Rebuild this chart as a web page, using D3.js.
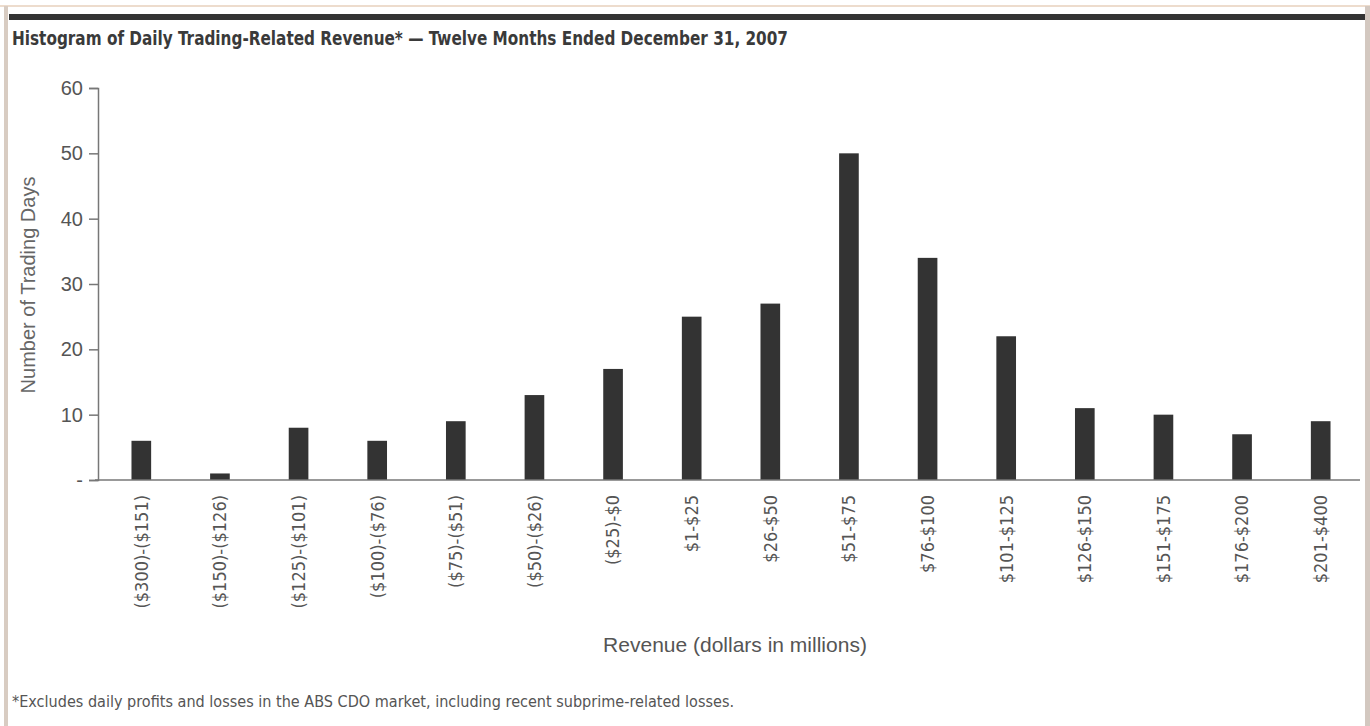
<!DOCTYPE html>
<html>
<head>
<meta charset="utf-8">
<script src="https://cdn.jsdelivr.net/npm/d3@7"></script>
<style>
  body { margin: 0; background: #fff; }
  svg { display: block; }
</style>
</head>
<body>
<svg id="chart" width="1370" height="726"></svg>
<script>
// revenue buckets (dollars in millions)
const categories = ["($300)-($151)", "($150)-($126)", "($125)-($101)", "($100)-($76)",
  "($75)-($51)", "($50)-($26)", "($25)-$0", "$1-$25", "$26-$50", "$51-$75",
  "$76-$100", "$101-$125", "$126-$150", "$151-$175", "$176-$200", "$201-$400"];
// number of trading days in each bucket
const tradingDays = [6, 1, 8, 6, 9, 13, 17, 25, 27, 50, 34, 22, 11, 10, 7, 9];
const yTicks = [0, 10, 20, 30, 40, 50, 60];

const titleText = "Histogram of Daily Trading-Related Revenue*  \u2014  Twelve Months Ended December 31, 2007";
const footText = "*Excludes daily profits and losses in the ABS CDO market, including recent subprime-related losses.";

const svg = d3.select("#chart");
const narrow = "'Liberation Sans Narrow', 'DejaVu Sans Condensed', 'Roboto Condensed', sans-serif";

// frame
svg.append("line").attr("x1", 0).attr("x2", 1370).attr("y1", 6).attr("y2", 6)
  .attr("stroke", "#eddccd").attr("stroke-width", 2);
svg.append("rect").attr("x", 4).attr("y", 6).attr("width", 4).attr("height", 720).attr("fill", "#d8ccc2");
svg.append("rect").attr("x", 1365).attr("y", 6).attr("width", 5).attr("height", 720).attr("fill", "#d3c8c0");
svg.append("rect").attr("x", 9).attr("y", 14).attr("width", 1356).attr("height", 6).attr("fill", "#333");

// title, squeezed to the condensed width of the original
svg.append("text")
  .attr("x", 12).attr("y", 45)
  .attr("textLength", 776).attr("lengthAdjust", "spacingAndGlyphs")
  .style("font-family", narrow).style("font-weight", "bold")
  .style("font-size", "20px").attr("fill", "#3a3a3a")
  .text(titleText);

const x = d3.scaleBand().domain(categories).range([102, 1360]).paddingInner(0.75).paddingOuter(0.375);
const y = d3.scaleLinear().domain([0, 60]).range([480, 88]);

// y axis
const yAxis = svg.append("g").attr("transform", "translate(98,0)")
  .call(d3.axisLeft(y).tickValues(yTicks).tickSize(9).tickPadding(6)
    .tickFormat(d => d === 0 ? "-" : d));
yAxis.select(".domain").attr("stroke", "#777").attr("stroke-width", 1.5);
yAxis.selectAll(".tick line").attr("stroke", "#777").attr("stroke-width", 1.5);
yAxis.selectAll("text").style("font-family", "'Liberation Sans', Arial, sans-serif")
  .style("font-size", "20px").attr("fill", "#555");

// bars
svg.selectAll(".bar").data(tradingDays).enter().append("rect")
  .attr("class", "bar")
  .attr("x", (d, i) => x(categories[i]))
  .attr("width", x.bandwidth())
  .attr("y", d => y(d))
  .attr("height", d => y(0) - y(d))
  .attr("fill", "#333");

// x axis
const xAxis = svg.append("g").attr("transform", "translate(0,480)")
  .call(d3.axisBottom(x).tickSize(0).tickPadding(0));
xAxis.select(".domain").attr("d", "M95,0H1360").attr("stroke", "#777").attr("stroke-width", 1.5);
xAxis.selectAll(".tick text")
  .attr("transform", "rotate(-90)")
  .attr("x", -15).attr("y", 0).attr("dy", "0.35em")
  .style("text-anchor", "end")
  .style("font-family", narrow).style("font-size", "18px").attr("fill", "#555");

svg.append("text")
  .attr("transform", "translate(35,285) rotate(-90)")
  .style("text-anchor", "middle")
  .style("font-family", "'Liberation Sans', Arial, sans-serif")
  .style("font-size", "20px").attr("fill", "#666")
  .text("Number of Trading Days");

svg.append("text")
  .attr("x", 735).attr("y", 652)
  .style("text-anchor", "middle")
  .style("font-family", "'Liberation Sans', Arial, sans-serif")
  .style("font-size", "21px").attr("fill", "#555")
  .text("Revenue (dollars in millions)");

svg.append("text")
  .attr("x", 12).attr("y", 707)
  .attr("textLength", 722).attr("lengthAdjust", "spacingAndGlyphs")
  .style("font-family", narrow)
  .style("font-size", "15px").attr("fill", "#555")
  .text(footText);
</script>
</body>
</html>
